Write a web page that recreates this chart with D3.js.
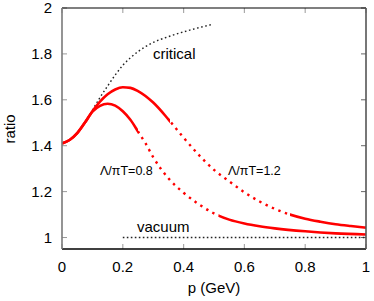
<!DOCTYPE html>
<html><head><meta charset="utf-8">
<script src="https://cdn.jsdelivr.net/npm/d3@7"></script>
<style>body{margin:0;background:#fff}svg{display:block}text{font-family:"Liberation Sans",Arial,sans-serif}</style>
</head><body><svg id="c" width="374" height="301"></svg>
<script>
const xTicks = [0, 0.2, 0.4, 0.6, 0.8, 1];
const yTicks = [1, 1.2, 1.4, 1.6, 1.8, 2];
const xTickLabels = ["0", "0.2", "0.4", "0.6", "0.8", "1"];
const yTickLabels = ["1", "1.2", "1.4", "1.6", "1.8", "2"];

const criticalP = [0, 0.025, 0.05, 0.075, 0.1, 0.125, 0.15, 0.175, 0.2, 0.225, 0.25, 0.275, 0.3, 0.35, 0.4, 0.45, 0.49];
const criticalR = [1.41, 1.425, 1.455, 1.50, 1.555, 1.61, 1.66, 1.708, 1.75, 1.783, 1.81, 1.832, 1.85, 1.875, 1.896, 1.914, 1.927];

const upperP = [0, 0.025, 0.05, 0.075, 0.1, 0.125, 0.15, 0.175, 0.2, 0.225, 0.25, 0.3, 0.35, 0.4, 0.45, 0.5, 0.55, 0.6, 0.65, 0.7, 0.75, 0.8, 0.85, 0.9, 0.95, 1.0];
const upperR = [1.41, 1.425, 1.455, 1.50, 1.55, 1.592, 1.624, 1.645, 1.655, 1.652, 1.638, 1.588, 1.515, 1.435, 1.36, 1.295, 1.245, 1.197, 1.157, 1.125, 1.10, 1.082, 1.069, 1.058, 1.05, 1.043];

const lowerP = [0, 0.025, 0.05, 0.075, 0.1, 0.125, 0.15, 0.175, 0.2, 0.225, 0.25, 0.275, 0.3, 0.35, 0.4, 0.45, 0.5, 0.55, 0.6, 0.65, 0.7, 0.8, 0.9, 1.0];
const lowerR = [1.41, 1.425, 1.455, 1.50, 1.548, 1.574, 1.583, 1.575, 1.55, 1.513, 1.462, 1.41, 1.35, 1.258, 1.195, 1.145, 1.105, 1.078, 1.061, 1.049, 1.04, 1.027, 1.018, 1.013];

const vacuumP = [0.2, 1.0];
const vacuumR = [1.0, 1.0];

// solid / dotted ranges in p for each red curve
const upperSolid = [[0, 0.355], [0.75, 1.0]];
const upperDotted = [[0.355, 0.75]];
const lowerSolid = [[0, 0.25], [0.515, 1.0]];
const lowerDotted = [[0.25, 0.515]];

const svg = d3.select("#c");
const L = 62, R = 366, T = 8, B = 249;
const x = d3.scaleLinear().domain([0, 1]).range([L, R]);
const y = d3.scaleLinear().domain([0.95, 2]).range([B, T]);

const line = d3.line().x(d => x(d[0])).y(d => y(d[1])).curve(d3.curveMonotoneX);
const zip = (a, b) => a.map((v, i) => [v, b[i]]);

const defs = svg.append("defs");
let clipId = 0;
function clipFor(r) {
  const id = "cl" + (clipId++);
  defs.append("clipPath").attr("id", id).append("rect")
    .attr("x", x(r[0])).attr("y", 0).attr("width", x(r[1]) - x(r[0])).attr("height", 301);
  return "url(#" + id + ")";
}

// ticks (drawn first, gray, inward)
const g = svg.append("g");
yTicks.forEach(v => {
  g.append("line").attr("x1", L).attr("x2", L + 5).attr("y1", y(v)).attr("y2", y(v)).attr("stroke", "#999").attr("stroke-width", 1);
  g.append("line").attr("x1", R - 5).attr("x2", R).attr("y1", y(v)).attr("y2", y(v)).attr("stroke", "#666").attr("stroke-width", 1);
});
xTicks.forEach(v => {
  g.append("line").attr("x1", x(v)).attr("x2", x(v)).attr("y1", B).attr("y2", B - 5).attr("stroke", "#aaa").attr("stroke-width", 1.2);
  g.append("line").attr("x1", x(v)).attr("x2", x(v)).attr("y1", T).attr("y2", T + 5).attr("stroke", "#aaa").attr("stroke-width", 1.2);
});

// curves
svg.append("path").attr("d", line(zip(vacuumP, vacuumR))).attr("fill", "none")
  .attr("stroke", "#222").attr("stroke-width", 1.4).attr("stroke-dasharray", "1.6,2.4");
svg.append("path").attr("d", line(zip(criticalP, criticalR))).attr("fill", "none")
  .attr("stroke", "#222").attr("stroke-width", 1.4).attr("stroke-dasharray", "1.6,2.6");

function drawRed(P, Rv, solid, dotted) {
  const d = line(zip(P, Rv));
  solid.forEach(r => svg.append("path").attr("d", d).attr("fill", "none").attr("stroke", "#f00")
    .attr("stroke-width", 2.6).attr("clip-path", clipFor(r)));
  dotted.forEach(r => svg.append("path").attr("d", d).attr("fill", "none").attr("stroke", "#f00")
    .attr("stroke-width", 2.4).attr("stroke-dasharray", "2.4,4.6").attr("clip-path", clipFor(r)));
}
drawRed(upperP, upperR, upperSolid, upperDotted);
drawRed(lowerP, lowerR, lowerSolid, lowerDotted);

// frame
svg.append("line").attr("x1", L).attr("x2", R).attr("y1", T).attr("y2", T).attr("stroke", "#000").attr("stroke-width", 1.2);
svg.append("line").attr("x1", L).attr("x2", R).attr("y1", B).attr("y2", B).attr("stroke", "#000").attr("stroke-width", 1.6);
svg.append("line").attr("x1", L).attr("x2", L).attr("y1", T).attr("y2", B).attr("stroke", "#7a7a7a").attr("stroke-width", 1.6);
svg.append("line").attr("x1", R).attr("x2", R).attr("y1", T).attr("y2", B).attr("stroke", "#555").attr("stroke-width", 1.6);

// tick labels
yTicks.forEach((v, i) => svg.append("text").attr("x", 52).attr("y", y(v)).attr("dy", "0.36em")
  .attr("text-anchor", "end").attr("font-size", 15).text(yTickLabels[i]));
xTicks.forEach((v, i) => svg.append("text").attr("x", x(v)).attr("y", 272)
  .attr("text-anchor", "middle").attr("font-size", 15).text(xTickLabels[i]));

// axis titles
svg.append("text").attr("transform", "translate(15," + 129 + ") rotate(-90)").attr("text-anchor", "middle")
  .attr("font-size", 15).text("ratio");
svg.append("text").attr("x", x(0.5)).attr("y", 293).attr("text-anchor", "middle").attr("font-size", 15).text("p (GeV)");

// annotations
svg.append("text").attr("x", 153).attr("y", 59).attr("font-size", 15).text("critical");
svg.append("text").attr("x", 137).attr("y", 232).attr("font-size", 15).text("vacuum");
svg.append("text").attr("x", 100).attr("y", 175).attr("font-size", 12.5).text("Λ/πT=0.8");
svg.append("text").attr("x", 228).attr("y", 175).attr("font-size", 12.5).text("Λ/πT=1.2");
</script></body></html>
